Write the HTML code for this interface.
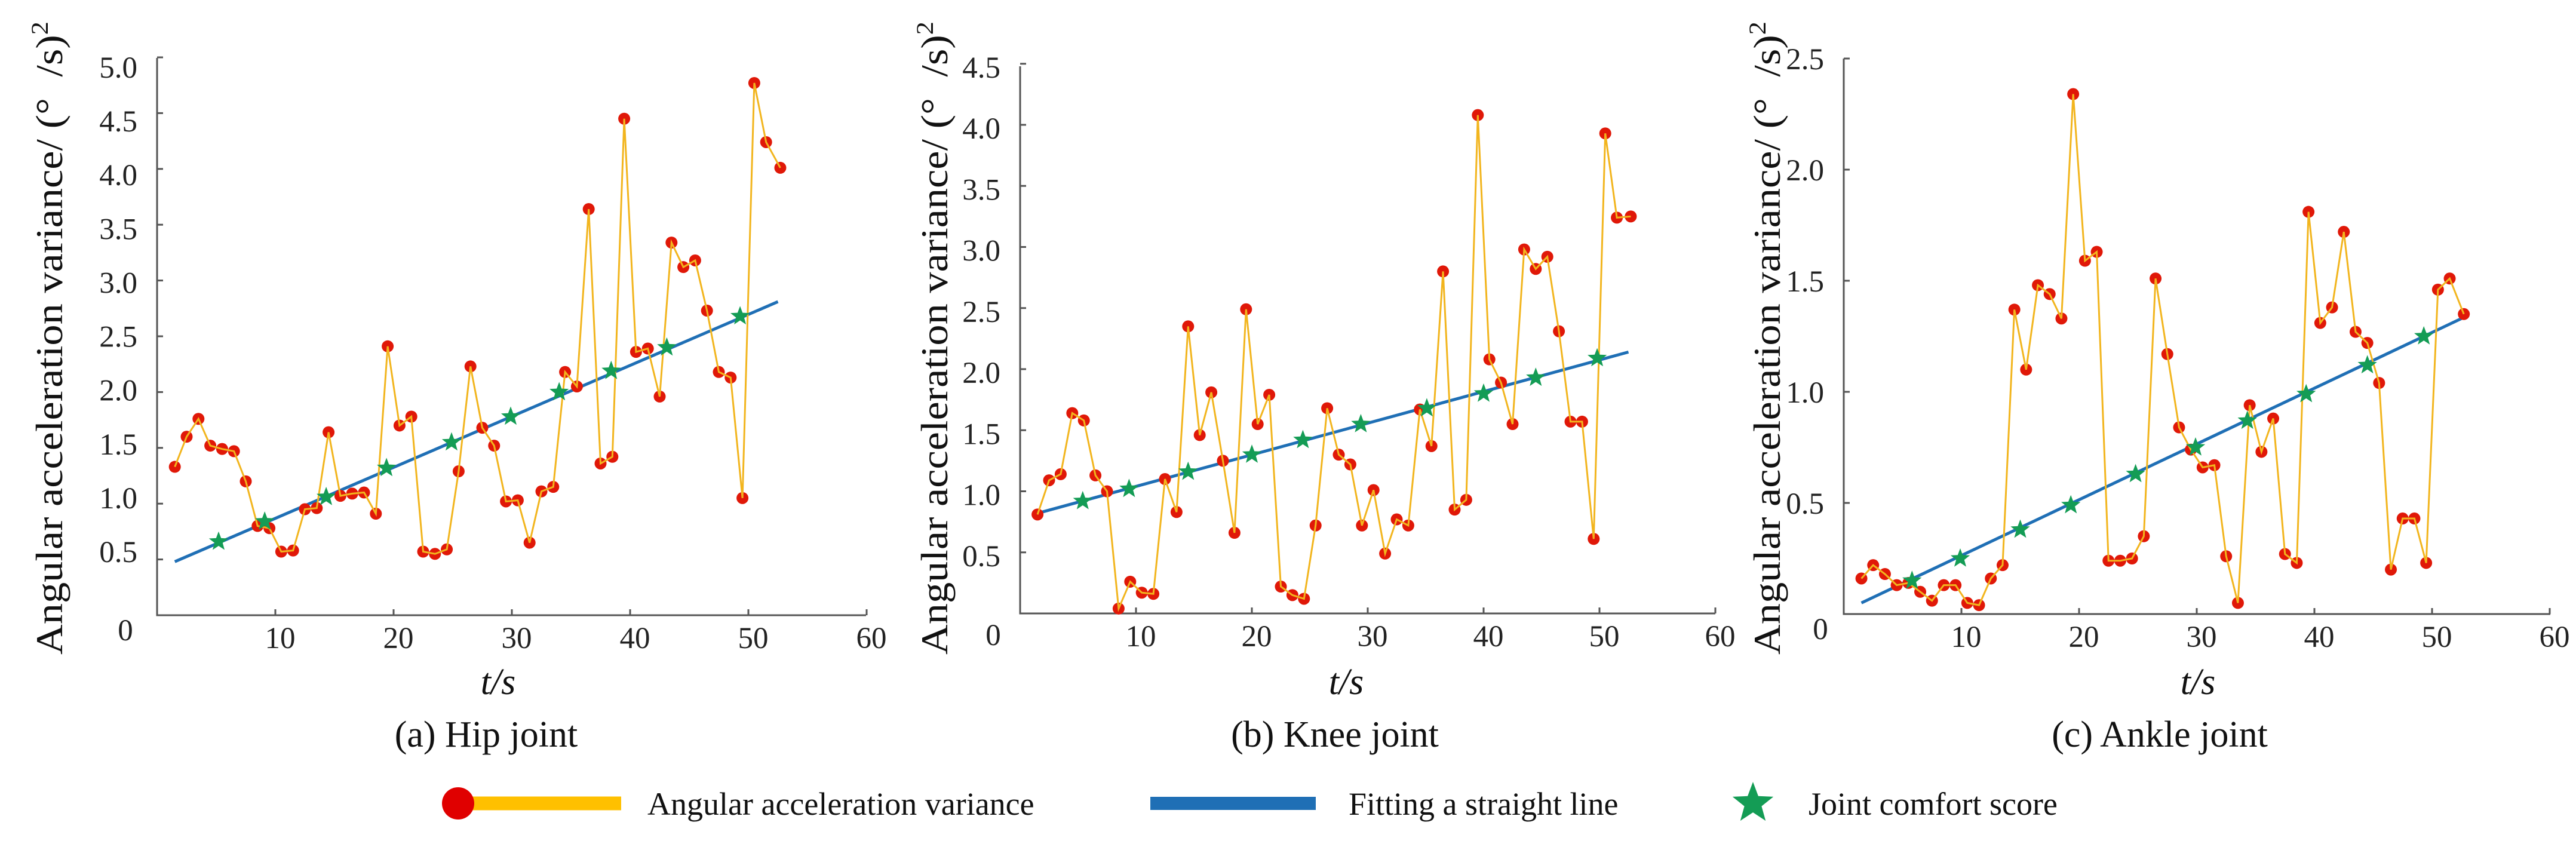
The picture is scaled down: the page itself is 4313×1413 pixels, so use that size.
<!DOCTYPE html>
<html><head><meta charset="utf-8"><style>
html,body{margin:0;padding:0;background:#fff;}
svg, svg text{font-family:"Liberation Serif","Times New Roman",serif;}
</style></head><body>
<svg id="chart" width="4313" height="1408" viewBox="0 0 4313 1408" xmlns="http://www.w3.org/2000/svg" font-family="Liberation Serif, serif">
<g id="panels"></g>
<g id="legend">
  <g>
    <line x1="767" y1="1345" x2="1040" y2="1345" stroke="#ffc000" stroke-width="23"/>
    <circle cx="767" cy="1345" r="27" fill="#e00000"/>
    <text x="1084" y="1364" font-size="54" fill="#111" font-family="Liberation Serif, serif">Angular acceleration variance</text>
  </g>
  <g>
    <line x1="1926" y1="1345" x2="2203" y2="1345" stroke="#1f6fb5" stroke-width="22"/>
    <text x="2258" y="1364" font-size="54" fill="#111" font-family="Liberation Serif, serif">Fitting a straight line</text>
  </g>
  <g>
    <polygon id="legstar" fill="#149c55"/>
    <text x="3028" y="1364" font-size="54" fill="#111" font-family="Liberation Serif, serif">Joint comfort score</text>
  </g>
</g>
</svg>
<script>
// shared time categories (s)
const tVals = [1.5,2.5,3.5,4.5,5.5,6.5,7.5,8.5,9.5,10.5,11.5,12.5,13.5,14.5,15.5,16.5,17.5,18.5,19.5,20.5,21.5,22.5,23.5,24.5,25.5,26.5,27.5,28.5,29.5,30.5,31.5,32.5,33.5,34.5,35.5,36.5,37.5,38.5,39.5,40.5,41.5,42.5,43.5,44.5,45.5,46.5,47.5,48.5,49.5,50.5,51.5,52.7];
const xTicks = [10,20,30,40,50,60];
const hipVar = [1.33,1.6,1.76,1.52,1.49,1.47,1.2,0.8,0.78,0.57,0.58,0.95,0.96,1.64,1.07,1.09,1.1,0.91,2.41,1.7,1.78,0.57,0.55,0.59,1.29,2.23,1.68,1.52,1.02,1.03,0.65,1.11,1.15,2.18,2.05,3.64,1.36,1.42,4.45,2.36,2.39,1.96,3.34,3.12,3.18,2.73,2.18,2.13,1.05,4.77,4.24,4.01];
const hipStarT = [5.2,9.1,14.3,19.4,24.9,29.9,34.0,38.4,43.1,49.3];
const hipStarV = [0.66,0.84,1.06,1.32,1.55,1.78,2.0,2.19,2.4,2.68];
const hipFit = [0.48,2.81];
const hipYTicks = [0.5,1.0,1.5,2.0,2.5,3.0,3.5,4.0,4.5,5.0];
const kneeVar = [0.81,1.09,1.14,1.64,1.58,1.13,1.0,0.04,0.26,0.17,0.16,1.1,0.83,2.35,1.46,1.81,1.25,0.66,2.49,1.55,1.79,0.22,0.15,0.12,0.72,1.68,1.3,1.22,0.72,1.01,0.49,0.77,0.72,1.67,1.37,2.8,0.85,0.93,4.08,2.08,1.89,1.55,2.98,2.82,2.92,2.31,1.57,1.57,0.61,3.93,3.24,3.25];
const kneeStarT = [5.4,9.4,14.5,20.0,24.4,29.4,35.1,40.0,44.5,49.8];
const kneeStarV = [0.92,1.02,1.16,1.3,1.42,1.55,1.68,1.8,1.93,2.09];
const kneeFit = [0.82,2.14];
const kneeYTicks = [0.5,1.0,1.5,2.0,2.5,3.0,3.5,4.0,4.5];
const ankleVar = [0.16,0.22,0.18,0.13,0.14,0.10,0.06,0.13,0.13,0.05,0.04,0.16,0.22,1.37,1.1,1.48,1.44,1.33,2.34,1.59,1.63,0.24,0.24,0.25,0.35,1.51,1.17,0.84,0.74,0.66,0.67,0.26,0.05,0.94,0.73,0.88,0.27,0.23,1.81,1.31,1.38,1.72,1.27,1.22,1.04,0.2,0.43,0.43,0.23,1.46,1.51,1.35];
const ankleStarT = [5.8,9.9,15.0,19.3,24.8,29.9,34.3,39.3,44.5,49.3];
const ankleStarV = [0.15,0.25,0.38,0.49,0.63,0.75,0.87,0.99,1.12,1.25];
const ankleFit = [0.05,1.33];
const ankleYTicks = [0.5,1.0,1.5,2.0,2.5];
const fitT = [1.5,52.5];

const NS="http://www.w3.org/2000/svg";
const FF="Liberation Serif, serif";
function mk(tag,attrs,parent){const e=document.createElementNS(NS,tag);for(const k in attrs)e.setAttribute(k,attrs[k]);if(tag==='text')e.setAttribute('font-family',FF);if(parent)parent.appendChild(e);return e;}
function starPts(cx,cy,R){const r=R*0.42;let p=[];for(let i=0;i<10;i++){const a=-Math.PI/2+i*Math.PI/5;const rr=i%2?r:R;p.push((cx+rr*Math.cos(a)).toFixed(1)+","+(cy+rr*Math.sin(a)).toFixed(1));}return p.join(" ");}
document.getElementById('legstar').setAttribute('points',starPts(2935,1345,36));

const panels=[
 {id:'hip',x0:263,xs:19.8,y0:1030,ys:186.8,top:97,xend:1450,lblX:104,zeroX:210,zeroY:1072,tX:834,capX:814,cap:'(a) Hip joint',v:hipVar,st:hipStarT,sv:hipStarV,fit:hipFit,yt:hipYTicks,lab:v=>923+(v-0.5)*(112-923)/4.5},
 {id:'knee',x0:1708,xs:19.4,y0:1027,ys:204.5,top:111,xend:2872,lblX:1586,zeroX:1663,zeroY:1080,tX:2254,capX:2235,cap:'(b) Knee joint',v:kneeVar,st:kneeStarT,sv:kneeStarV,fit:kneeFit,yt:kneeYTicks,lab:null,labOff:5},
 {id:'ankle',x0:3087,xs:19.7,y0:1028,ys:372,top:98,xend:4270,lblX:2980,zeroX:3048,zeroY:1070,tX:3680,capX:3616,cap:'(c) Ankle joint',v:ankleVar,st:ankleStarT,sv:ankleStarV,fit:ankleFit,yt:ankleYTicks,lab:null,labOff:0}
];
const root=document.getElementById('panels');
panels.forEach(P=>{
 const X=t=>P.x0+t*P.xs, Y=v=>P.y0-v*P.ys;
 const g=mk('g',{},root);
 
 
 const ax=mk('path',{d:`M${P.x0},${P.top} V${P.y0} H${P.xend}`,fill:'none',stroke:'#555',"stroke-width":3},g);
 
 
 P.yt.forEach(v=>{
  const ty=Y(v);
  mk('line',{x1:P.x0,y1:ty,x2:P.x0+10,y2:ty,stroke:'#555','stroke-width':3},g);
  const yc=P.lab?P.lab(v):ty+P.labOff;
  const tx=mk('text',{x:P.x0-33,y:yc+18,'font-size':51,'text-anchor':'end',fill:'#222'},g);
  tx.textContent=v.toFixed(1);
  
  
 });
 xTicks.forEach(t=>{
  const x=X(t);
  mk('line',{x1:x,y1:P.y0,x2:x,y2:P.y0-10,stroke:'#555','stroke-width':3},g);
  const tx=mk('text',{x:x+8,y:P.y0+55,'font-size':51,'text-anchor':'middle',fill:'#222'},g);
  tx.textContent=String(t);
  
  
 });
 const z=mk('text',{x:P.zeroX,y:P.zeroY,'font-size':51,'text-anchor':'middle',fill:'#222'},g);
 z.textContent='0';
 
 
 const yl=mk('text',{x:0,y:0,'font-size':63,'text-anchor':'middle',fill:'#111',transform:`translate(${P.lblX},566) rotate(-90)`,textLength:1060,lengthAdjust:'spacingAndGlyphs'},g);
 yl.innerHTML='Angular acceleration variance/ (°\u00a0\u00a0/s)<tspan dy="-24" font-size="40">2</tspan>';
 
 
 const xl=mk('text',{x:P.tX,y:1162,'font-size':62,'font-style':'italic','text-anchor':'middle',fill:'#111'},g);
 xl.textContent='t/s';
 
 
 const cp=mk('text',{x:P.capX,y:1250,'font-size':62,'text-anchor':'middle',fill:'#111'},g);
 cp.textContent=P.cap;
 
 
 const fl=mk('line',{x1:X(fitT[0]),y1:Y(P.fit[0]),x2:X(fitT[1]),y2:Y(P.fit[1]),stroke:'#1f6fb5','stroke-width':5},g);
 
 
 P.v.forEach((v,i)=>{
  const c=mk('circle',{cx:X(tVals[i]),cy:Y(v),r:10,fill:'#e01808'},g);
  
  
 });
 const pl=mk('polyline',{points:P.v.map((v,i)=>X(tVals[i])+','+Y(v)).join(' '),fill:'none',stroke:'#f2b51e','stroke-width':3},g);
 
 
 P.st.forEach((t,i)=>{
  const s=mk('polygon',{points:starPts(X(t),Y(P.sv[i]),17),fill:'#149c55'},g);
  
  
 });
});
</script>
</body></html>
